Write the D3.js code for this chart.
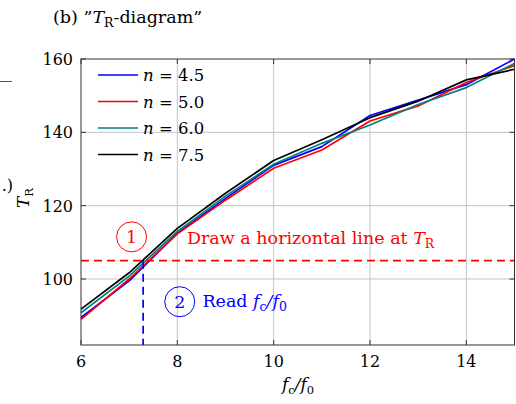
<!DOCTYPE html>
<meta charset="utf-8">
<script src="https://d3js.org/d3.v7.min.js"></script>
<style>
body { margin:0; background:#fff; }
svg text { font-family: "DejaVu Serif", serif; }
.grid line { stroke:#c4c4c4; stroke-width:1; }
</style>
<body>
</body>
<script>

// data
var fRatio = [6, 7, 8, 9, 10, 11, 12, 13, 14, 15];
var nLabels = ["4.5", "5.0", "6.0", "7.5"];
var tR45 = [89.5, 99.5, 112.5, 122.0, 131.0, 136.1, 144.6, 148.8, 153.0, 160.0];
var tR50 = [89.0, 100.0, 112.3, 121.5, 130.2, 135.2, 143.1, 147.2, 153.6, 158.2];
var tR60 = [90.8, 100.8, 113.0, 122.6, 131.3, 137.0, 142.0, 147.6, 152.2, 158.8];
var tR75 = [91.8, 101.7, 113.8, 123.4, 132.3, 138.0, 144.0, 148.5, 154.3, 157.2];
var xTicks = [6, 8, 10, 12, 14];
var yTicks = [100, 120, 140, 160];
var hLineT = 105;
var readF = 7.29;

var colors = ["#0000ff", "#ff0000", "#008080", "#000000"];
var series = [tR45, tR50, tR60, tR75];

var margin = {top: 59, right: 1.5, bottom: 59, left: 81};
var W = 516, H = 404;
var width = W - margin.left - margin.right,
    height = H - margin.top - margin.bottom;
var fs = 16, fsub = 11.5;   // ticks, legend, axis labels
var fn = 17.5, fnsub = 12.5; // notes and title

var svg = d3.select('body').append('svg')
  .attr('width', W)
  .attr('height', H);

var g = svg.append('g')
  .attr('transform', 'translate(' + margin.left + ',' + margin.top + ')');

var x = d3.scaleLinear().domain([6, 15]).range([0, width]);
var y = d3.scaleLinear().domain([82, 160]).range([height, 0]);

// grid
var grid = g.append('g').attr('class', 'grid');
grid.selectAll('.gx').data(xTicks.slice(1)).enter().append('line')
  .attr('x1', d => x(d)).attr('x2', d => x(d))
  .attr('y1', 0).attr('y2', height);
grid.selectAll('.gy').data(yTicks.slice(0, 3)).enter().append('line')
  .attr('x1', 0).attr('x2', width)
  .attr('y1', d => y(d)).attr('y2', d => y(d));

// curves
var line = d3.line()
  .x((d, i) => x(fRatio[i]))
  .y(d => y(d));

g.selectAll('.curve').data(series).enter().append('path')
  .attr('class', 'curve')
  .attr('d', line)
  .attr('fill', 'none')
  .attr('stroke', (d, i) => colors[i])
  .attr('stroke-width', 1.7)
  .attr('stroke-linejoin', 'round');

// annotation lines
g.append('line')
  .attr('x1', 0).attr('x2', width)
  .attr('y1', y(hLineT)).attr('y2', y(hLineT))
  .attr('stroke', '#ff0000').attr('stroke-width', 1.7)
  .attr('stroke-dasharray', '8,5');

g.append('line')
  .attr('x1', x(readF)).attr('x2', x(readF))
  .attr('y1', y(hLineT)).attr('y2', height)
  .attr('stroke', '#0000ff').attr('stroke-width', 1.7)
  .attr('stroke-dasharray', '8,5');

// frame + ticks (inside, mirrored)
var tk = 5;
var axes = g.append('g').attr('stroke', '#333').attr('stroke-width', 1);
xTicks.forEach(function(t) {
  axes.append('line').attr('x1', x(t)).attr('x2', x(t)).attr('y1', height).attr('y2', height - tk);
  axes.append('line').attr('x1', x(t)).attr('x2', x(t)).attr('y1', 0).attr('y2', tk);
});
yTicks.forEach(function(t) {
  axes.append('line').attr('x1', 0).attr('x2', tk).attr('y1', y(t)).attr('y2', y(t));
  axes.append('line').attr('x1', width).attr('x2', width - tk).attr('y1', y(t)).attr('y2', y(t));
});
axes.append('rect').attr('x', 0).attr('y', 0).attr('width', width).attr('height', height)
  .attr('fill', 'none');

// tick labels
g.selectAll('.xl').data(xTicks).enter().append('text')
  .attr('x', d => x(d)).attr('y', height + 22)
  .attr('text-anchor', 'middle').attr('font-size', fs)
  .text(d => d);
g.selectAll('.yl').data(yTicks).enter().append('text')
  .attr('x', -8).attr('y', d => y(d) + 6)
  .attr('text-anchor', 'end').attr('font-size', fs)
  .text(d => d);

// legend
var leg = g.append('g').attr('transform', 'translate(17,16)');
nLabels.forEach(function(lab, i) {
  var row = leg.append('g').attr('transform', 'translate(0,' + (i * 26.5) + ')');
  row.append('line').attr('x1', 0).attr('x2', 40).attr('y1', 0).attr('y2', 0)
    .attr('stroke', colors[i]).attr('stroke-width', 1.7);
  var t = row.append('text').attr('x', 45).attr('y', 6).attr('font-size', fs + 0.5);
  t.append('tspan').attr('font-style', 'italic').text('n');
  t.append('tspan').text(' = ' + lab);
});

// circled labels and notes
function circled(cx, cy, num, col) {
  g.append('circle').attr('cx', cx).attr('cy', cy).attr('r', 15)
    .attr('fill', 'none').attr('stroke', col).attr('stroke-width', 1);
  g.append('text').attr('x', cx).attr('y', cy + 6).attr('text-anchor', 'middle')
    .attr('font-size', fn).attr('fill', col).text(num);
}
circled(x(7.05), y(111.5), '1', '#ff0000');
circled(x(8.05), y(93.8), '2', '#0000ff');

var n1 = g.append('text').attr('x', x(8.2)).attr('y', y(109.5))
  .attr('font-size', fn).attr('fill', '#ff0000');
n1.append('tspan').text('Draw a horizontal line at ');
n1.append('tspan').attr('font-style', 'italic').text('T');
n1.append('tspan').attr('font-size', fnsub).attr('dy', 4).text('R');

var n2 = g.append('text').attr('x', x(8.52)).attr('y', y(92.3))
  .attr('font-size', fn).attr('fill', '#0000ff');
n2.append('tspan').text('Read ');
n2.append('tspan').attr('font-style', 'italic').text('f');
n2.append('tspan').attr('font-size', fnsub).attr('dy', 4).text('c');
n2.append('tspan').attr('dy', -4).attr('font-style', 'italic').text('/f');
n2.append('tspan').attr('font-size', fnsub).attr('dy', 4).text('0');

// axis labels
var xl = svg.append('text').attr('x', 298).attr('y', 390)
  .attr('text-anchor', 'middle').attr('font-size', fs + 1);
xl.append('tspan').attr('font-style', 'italic').text('f');
xl.append('tspan').attr('font-size', fsub).attr('dy', 4).text('c');
xl.append('tspan').attr('dy', -4).attr('font-style', 'italic').text('/f');
xl.append('tspan').attr('font-size', fsub).attr('dy', 4).text('0');

var yl = svg.append('text').attr('transform', 'translate(29,198) rotate(-90)')
  .attr('text-anchor', 'middle').attr('font-size', fs + 1);
yl.append('tspan').attr('font-style', 'italic').text('T');
yl.append('tspan').attr('font-size', fsub).attr('dy', 4).text('R');

// title
var ti = svg.append('text').attr('x', 53).attr('y', 23).attr('font-size', fn);
ti.append('tspan').text('(b) \u201D');
ti.append('tspan').attr('font-style', 'italic').text('T');
ti.append('tspan').attr('font-size', fnsub).attr('dy', 4).text('R');
ti.append('tspan').attr('dy', -4).text('-diagram\u201D');

// pieces of the neighbouring panel, cut off at the left edge
svg.append('line').attr('x1', 0).attr('x2', 12).attr('y1', 81.5).attr('y2', 81.5)
  .attr('stroke', '#555').attr('stroke-width', 1);
svg.append('text').attr('x', 13).attr('y', 191).attr('text-anchor', 'end')
  .attr('font-size', fs).text('.)');

</script>
